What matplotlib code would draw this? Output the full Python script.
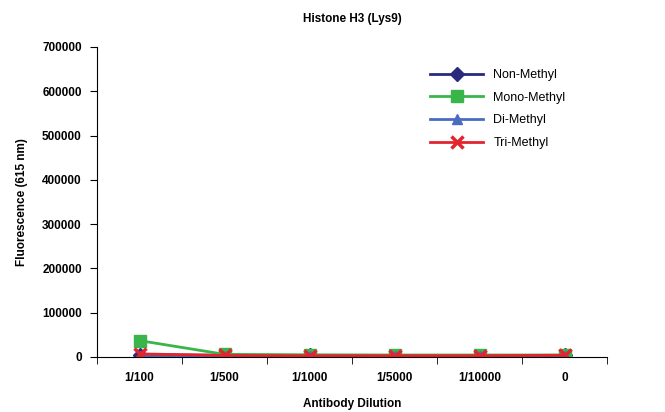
import numpy as np
import matplotlib.pyplot as plt

plt.rcParams['font.family'] = ['Liberation Sans', 'DejaVu Sans']

# data
dilutions = ['1/100', '1/500', '1/1000', '1/5000', '1/10000', '0']
non_methyl = [5000, 4000, 3500, 3000, 3000, 3500]
mono_methyl = [37000, 6000, 5000, 4500, 4500, 4500]
di_methyl = [2000, 2000, 2000, 2000, 2000, 2000]
tri_methyl = [7000, 3500, 3000, 3000, 3000, 4000]

x = np.arange(len(dilutions))

fig = plt.figure(figsize=(6.65, 4.12), dpi=100)
ax = fig.add_axes([0.146, 0.1335, 0.767, 0.7525])

ax.plot(x, non_methyl, color='#29297d', marker='D', markersize=7, lw=2, label='Non-Methyl')
ax.plot(x, mono_methyl, color='#3ab54a', marker='s', markersize=9, lw=2, label='Mono-Methyl')
ax.plot(x, di_methyl, color='#4a6cc0', marker='^', markersize=7, lw=2, label='Di-Methyl')
ax.plot(x, tri_methyl, color='#e2242e', marker='x', markersize=9, mew=2.5, lw=2, label='Tri-Methyl')

ax.set_xlim(-0.5, len(dilutions) - 0.5)
ax.set_ylim(0, 700000)
ax.set_yticks(np.arange(0, 700001, 100000))
ax.set_yticklabels([str(v) for v in range(0, 700001, 100000)], fontweight='bold', fontsize=8.5)
ax.set_xticks(x)
ax.set_xticklabels(dilutions, fontweight='bold', fontsize=8.5)
ax.set_xticks(np.arange(-0.5, len(dilutions)), minor=True)
ax.tick_params(axis='x', which='major', length=0, pad=11)
ax.tick_params(axis='x', which='minor', length=5, direction='out')
ax.tick_params(axis='y', length=5, direction='out', pad=6)

for s in ['top', 'right']:
    ax.spines[s].set_visible(False)

ax.set_title('Histone H3 (Lys9)', fontweight='bold', fontsize=8.5, pad=18)
ax.set_xlabel('Antibody Dilution', fontweight='bold', fontsize=8.5, labelpad=10)
ax.set_ylabel('Fluorescence (615 nm)', fontweight='bold', fontsize=8.5, labelpad=10)

ax.legend(loc='upper left', bbox_to_anchor=(0.63, 0.965), frameon=False, fontsize=9,
          handlelength=4.3, labelspacing=0.85, handletextpad=0.8)

plt.savefig('out.png')
